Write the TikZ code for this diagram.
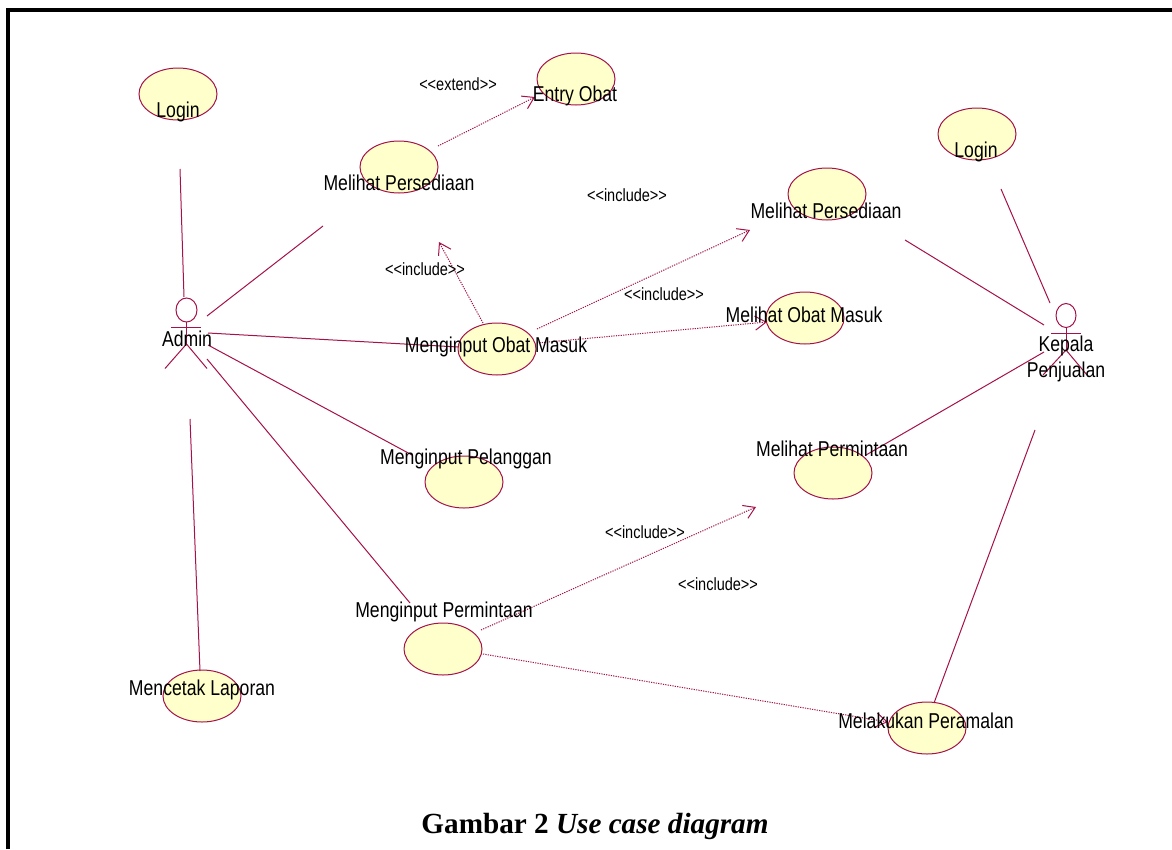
\documentclass[tikz,border=0pt]{standalone}
\usepackage{fontspec}
\setmainfont{Liberation Serif}
\newfontfamily\narrowfont[FakeStretch=0.82]{Liberation Sans}
\usetikzlibrary{arrows.meta,shapes.geometric}
\definecolor{umlline}{HTML}{A5114A}
\definecolor{umlfill}{HTML}{FFFFCB}
\tikzset{
  x=1pt,y=-1pt,
  usecase/.style={draw=umlline,fill=umlfill,line width=1pt,ellipse,minimum width=78pt,minimum height=52pt,inner sep=0pt},
  lab/.style={font=\narrowfont\fontsize{21.5}{25.5}\selectfont,text=black,inner sep=0pt,align=center},
  stereo/.style={font=\narrowfont\fontsize{17.7}{20}\selectfont,text=black,inner sep=0pt},
  assoc/.style={draw=umlline,line width=1pt},
  dep/.style={draw=umlline,line width=1pt,dash pattern=on 1.2pt off 1.2pt,-{Straight Barb[length=11pt,width=14pt,line width=1pt]}},
  actorline/.style={draw=umlline,line width=1pt},
}
\begin{document}
\begin{tikzpicture}
\useasboundingbox (0,0) rectangle (1172,849);
\fill[white] (0,0) rectangle (1172,849);
\draw[line width=4pt,black] (8,849) -- (8,10) -- (1172,10);

% use cases
\node[usecase] (login1) at (178,94) {};
\node[usecase] (entry) at (576,79) {};
\node[usecase] (persL) at (399,167) {};
\node[usecase] (login2) at (977,134) {};
\node[usecase] (persR) at (827,194) {};
\node[usecase] (masukR) at (805,318) {};
\node[usecase] (masukL) at (497,349) {};
\node[usecase] (pelanggan) at (464,482) {};
\node[usecase] (mintaR) at (833,473) {};
\node[usecase] (mintaL) at (443,649) {};
\node[usecase] (cetak) at (202,696) {};
\node[usecase] (ramal) at (927,728) {};

% actors
\draw[actorline] (186.5,310) ellipse (10.5 and 12);
\coordinate (aTop) at (186.5,322);
\coordinate (aHip) at (186.5,344);
\draw[actorline] (aTop) -- (aHip);
\draw[actorline] (171,327.5) -- (201,327.5);
\draw[actorline] (165,368.5) -- (aHip) -- (207,368.5);
\draw[actorline] (1066,315.5) ellipse (10 and 12);
\coordinate (kTop) at (1066,327.5);
\coordinate (kHip) at (1066,350);
\draw[actorline] (kTop) -- (kHip);
\draw[actorline] (1051,333) -- (1081,333);
\draw[actorline] (1043,375) -- (kHip) -- (1087,375);

% connector ends
\coordinate (a1) at (184,297);   \coordinate (l1) at (180,169);
\coordinate (a2) at (207,316);   \coordinate (p1) at (323,226);
\coordinate (a3) at (208,333);   \coordinate (m1) at (458,347);
\coordinate (a4) at (208,345);   \coordinate (g1) at (412,455);
\coordinate (a5) at (207,359);   \coordinate (t1) at (410,603);
\coordinate (a6) at (190,419);   \coordinate (c1) at (200,671);
\coordinate (k1) at (1050,303);  \coordinate (l2) at (1001,189);
\coordinate (k2) at (1044,325);  \coordinate (p2) at (905,240);
\coordinate (k3) at (1044,352);  \coordinate (r1) at (866,455);
\coordinate (k4) at (1035,430);  \coordinate (w1) at (934,703);

\draw[assoc] (l1) -- (a1);
\draw[assoc] (p1) -- (a2);
\draw[assoc] (a3) -- (m1);
\draw[assoc] (a4) -- (g1);
\draw[assoc] (a5) -- (t1);
\draw[assoc] (a6) -- (c1);
\draw[assoc] (l2) -- (k1);
\draw[assoc] (p2) -- (k2);
\draw[assoc] (r1) -- (k3);
\draw[assoc] (w1) -- (k4);

\coordinate (d1s) at (438,146); \coordinate (d1e) at (535,97);
\coordinate (d2s) at (483,323); \coordinate (d2e) at (439,242);
\coordinate (d3s) at (537,329); \coordinate (d3e) at (750,230);
\coordinate (d4s) at (537,343); \coordinate (d4e) at (767,322);
\coordinate (d5s) at (481,630); \coordinate (d5e) at (756,507);
\coordinate (d6s) at (483,654); \coordinate (d6e) at (888,722);
\draw[dep] (d1s) -- (d1e);
\draw[dep] (d2s) -- (d2e);
\draw[dep] (d3s) -- (d3e);
\draw[dep] (d4s) -- (d4e);
\draw[dep] (d5s) -- (d5e);
\draw[dep] (d6s) -- (d6e);

% labels
\node[lab] (tLogin1) at (178,112) {Login};
\node[lab] (tEntry) at (575,96) {Entry Obat};
\node[lab] (tPersL) at (399,182.5) {Melihat Persediaan};
\node[lab] (tLogin2) at (976,152) {Login};
\node[lab] (tPersR) at (826,211) {Melihat Persediaan};
\node[lab] (tMasukR) at (804,315) {Melihat Obat Masuk};
\node[lab] (tMasukL) at (496,347) {Menginput Obat Masuk};
\node[lab] (tPel) at (466,459) {Menginput Pelanggan};
\node[lab] (tMintaR) at (832,448.5) {Melihat Permintaan};
\node[lab] (tMintaL) at (444,612) {Menginput Permintaan};
\node[lab] (tCetak) at (202,690) {Mencetak Laporan};
\node[lab] (tRamal) at (926,721) {Melakukan Peramalan};
\node[lab] (tAdmin) at (187,339) {Admin};
\node[lab] (tKepala) at (1066,359) {Kepala\\Penjualan};

\node[stereo] (s1) at (458,84) {<{}<extend>{}>};
\node[stereo] (s2) at (627,195) {<{}<include>{}>};
\node[stereo] (s3) at (425,269) {<{}<include>{}>};
\node[stereo] (s4) at (664,294) {<{}<include>{}>};
\node[stereo] (s5) at (645,532) {<{}<include>{}>};
\node[stereo] (s6) at (718,584) {<{}<include>{}>};

\node[inner sep=0pt,font=\fontsize{29.2}{32}\selectfont\bfseries] (cap) at (595,826) {Gambar 2 \textit{Use case diagram}};
\end{tikzpicture}
\end{document}
